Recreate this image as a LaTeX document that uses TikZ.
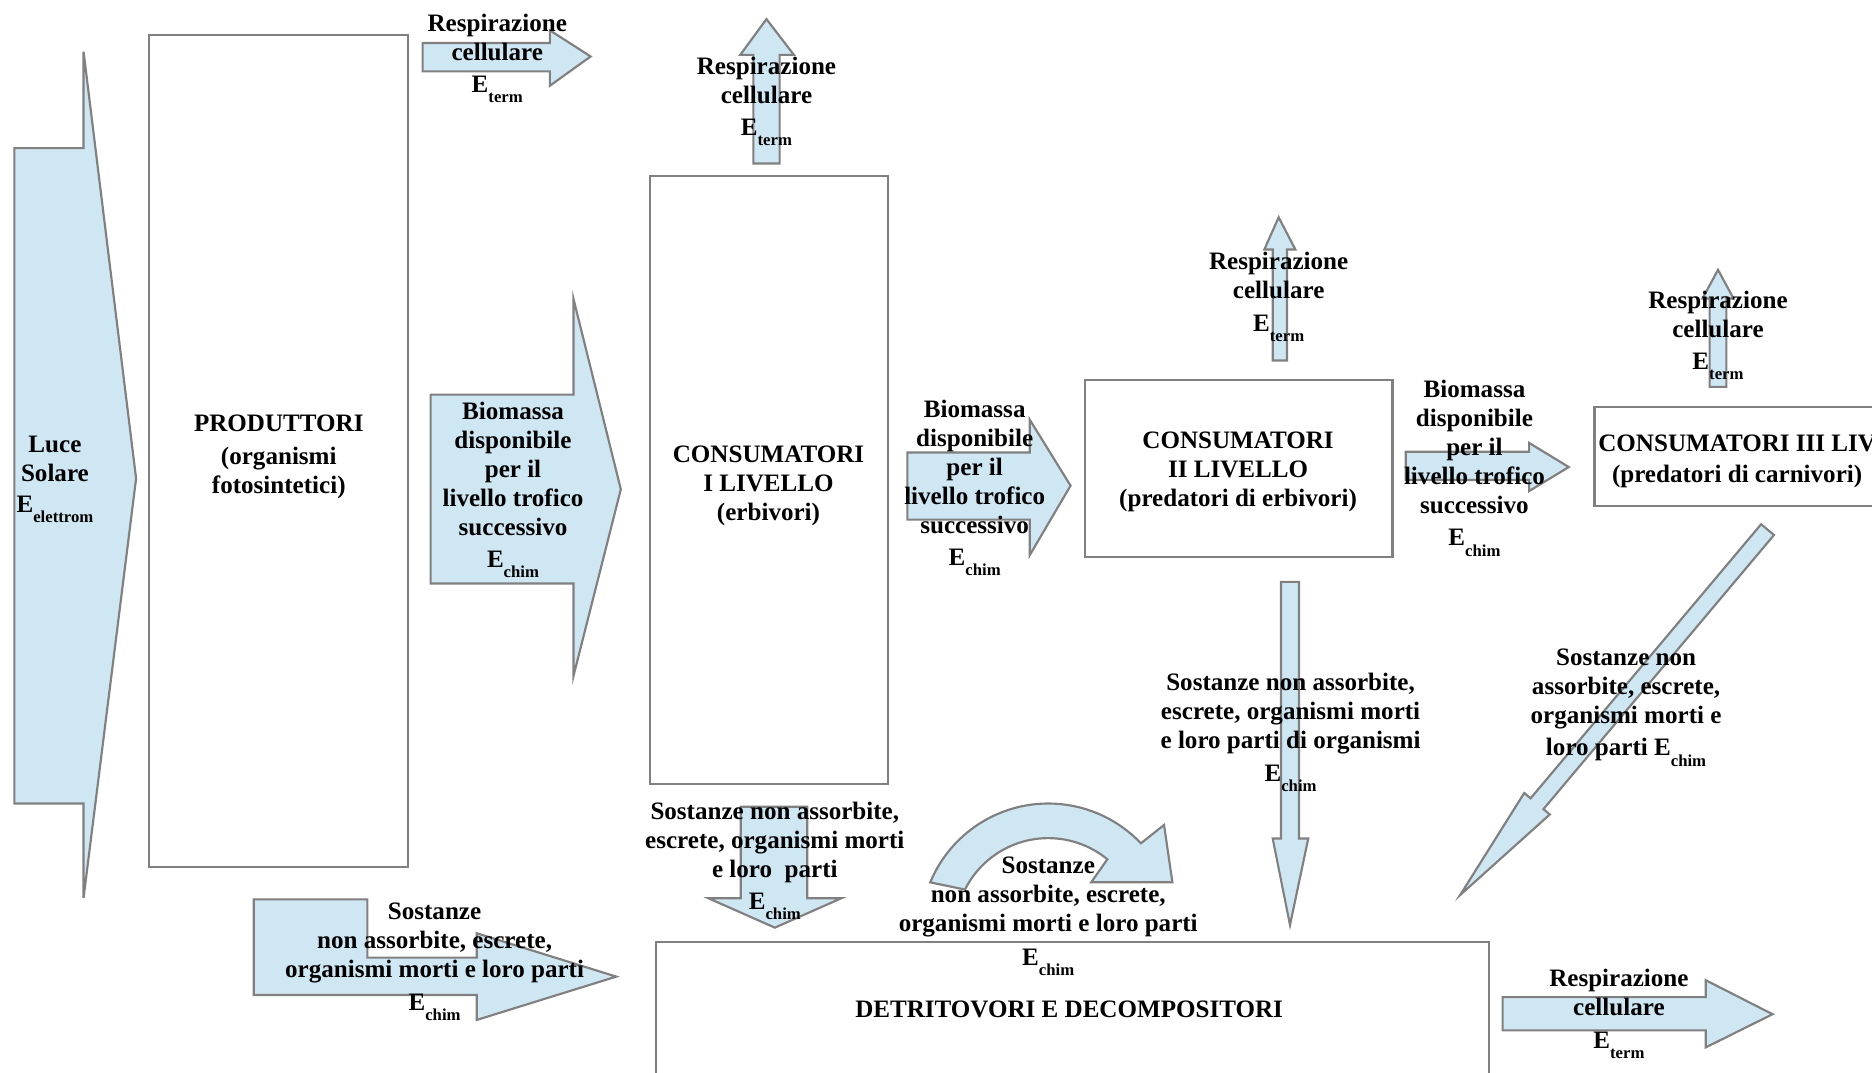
\documentclass[tikz,border=0pt]{standalone}
\usepackage{fontspec}
\setmainfont{Liberation Serif}
\definecolor{lineg}{RGB}{128,128,128}
\definecolor{afill}{RGB}{207,230,243}
\newcommand\Es[1]{E\raisebox{-8.5pt}{\fontsize{14}{16}\selectfont #1}}
\newcommand\lab[4]{\node[lbl] (#1) at (#2,#3+7) {\begin{tabular}[t]{@{}c@{}}#4\end{tabular}};}
\tikzset{
  box/.style={draw=lineg, line width=1.8pt, fill=white},
  arr/.style={draw=lineg, line width=1.8pt, fill=afill, line join=miter},
  lbl/.style={font=\fontsize{21}{24.3}\selectfont\bfseries, inner sep=0pt, anchor=base, text=black}
}
\begin{document}
\begin{tikzpicture}[x=1pt,y=-1pt]
\useasboundingbox (0,0) rectangle (1568,898);
\clip (0,0) rectangle (1568,898);
\fill[white] (0,0) rectangle (1568,898);
% boxes
\draw[box] (124.8,29.3) rectangle (341.8,726);
\draw[box] (544.6,147.4) rectangle (743.6,657);
\draw[box] (908.7,318) rectangle (1166.3,466.6);
\draw[box] (1335.5,341) rectangle (1590,424);
\draw[box] (549.7,788.7) rectangle (1247,920);
% block arrows
\draw[arr] (12,124.1) -- (70,124.1) -- (70,43.4) -- (114,400.8) -- (70,752) -- (70,673) -- (12,673) -- cycle;
\draw[arr] (354,36) -- (460.6,36) -- (460.6,25.4) -- (494.7,47.3) -- (460.6,71.8) -- (460.6,59.8) -- (354,59.8) -- cycle;
\draw[arr] (360.7,330.5) -- (480.4,330.5) -- (480.4,250.5) -- (520,409.8) -- (480.4,566) -- (480.4,488.7) -- (360.7,488.7) -- cycle;
\draw[arr] (631,137) -- (631,46) -- (620,46) -- (642,16) -- (665,46) -- (653,46) -- (653,137) -- cycle;
\draw[arr] (760,379) -- (862.5,379) -- (862.5,351.5) -- (896.7,406.8) -- (862.5,465) -- (862.5,435.2) -- (760,435.2) -- cycle;
\draw[arr] (1066,302) -- (1066,209) -- (1059,209) -- (1071,182) -- (1085,209) -- (1078,209) -- (1078,302) -- cycle;
\draw[arr] (1177.4,378.4) -- (1280.8,378.4) -- (1280.8,371) -- (1314,391.2) -- (1280.8,411.3) -- (1280.8,402) -- (1177.4,402) -- cycle;
\draw[arr] (1432,324) -- (1432,250) -- (1426,250) -- (1439,226) -- (1452,250) -- (1446,250) -- (1446,324) -- cycle;
\draw[arr] (620.5,675.7) -- (676.2,675.7) -- (676.2,752.4) -- (704.6,752.4) -- (649,777) -- (593.5,752.4) -- (620.5,752.4) -- cycle;
\draw[arr] (1073,487.4) -- (1088,487.4) -- (1088,702.3) -- (1095.8,702.3) -- (1080.5,774.8) -- (1066,702.3) -- (1073,702.3) -- cycle;
\draw[arr] (1475.1,439.1) -- (1485.9,448.1) -- (1292.8,677.7) -- (1298.1,682.2) -- (1223,749.7) -- (1276.7,664.2) -- (1282.0,668.7) -- cycle;
\draw[arr] (212.6,753.3) -- (307.7,753.3) -- (307.7,802.1) -- (399.3,802.1) -- (399.3,781.7) -- (516.2,818) -- (399.3,854.3) -- (399.3,833.4) -- (212.6,833.4) -- cycle;
\draw[arr] (1258.6,835.2) -- (1428.7,835.2) -- (1428.7,821) -- (1484.7,849.5) -- (1428.7,877.3) -- (1428.7,863) -- (1258.6,863) -- cycle;
\draw[arr] plot[domain=157.5:43.5, samples=40] ({878+107*cos(\x)},{780-107*sin(\x)}) -- (975,691) -- (982,739) -- (914,739) -- plot[domain=50.6:153.4, samples=40] ({878+78*cos(\x)},{780-78*sin(\x)}) -- cycle;
% labels
\lab{luce}{46}{371.8}{Luce\\Solare\\[2pt]\Es{elettrom}}
\lab{r1t}{416.5}{19.4}{Respirazione\\cellulare\\[2.7pt]\Es{term}}
\lab{prod}{233.5}{354}{PRODUTTORI\\[3.5pt](organismi\\fotosintetici)}
\lab{b1t}{429.7}{344}{Biomassa\\disponibile\\per il\\livello trofico\\successivo\\[2.7pt]\Es{chim}}
\lab{c1t}{643.7}{380}{CONSUMATORI\\I LIVELLO\\(erbivori)}
\lab{r2t}{642}{55.3}{Respirazione\\cellulare\\[2.7pt]\Es{term}}
\lab{b2t}{816.4}{342.5}{Biomassa\\disponibile\\per il\\livello trofico\\successivo\\[2.7pt]\Es{chim}}
\lab{c2t}{1037}{369}{CONSUMATORI\\II LIVELLO\\(predatori di erbivori)}
\lab{r3t}{1071}{219}{Respirazione\\cellulare\\[2.7pt]\Es{term}}
\lab{b3t}{1235}{326}{Biomassa\\disponibile\\per il\\livello trofico\\successivo\\[2.7pt]\Es{chim}}
\node[lbl, anchor=base west] (c3a) at (1338.6,378) {CONSUMATORI III LIVELLO};
\node[lbl] (c3b) at (1455,404) {(predatori di carnivori)};
\lab{r4t}{1439}{251}{Respirazione\\cellulare\\[2.7pt]\Es{term}}
\lab{dc1t}{649}{679}{Sostanze non assorbite,\\escrete, organismi morti\\e loro\ \ parti\\[2.7pt]\Es{chim}}
\lab{curvt}{878}{725}{Sostanze\\non assorbite, escrete,\\organismi morti e loro parti\\[3.5pt]\Es{chim}}
\lab{dett}{895.5}{845}{DETRITOVORI E DECOMPOSITORI}
\lab{ldt}{1081}{571}{Sostanze non assorbite,\\escrete, organismi morti\\e loro parti di organismi\\[3.5pt]\Es{chim}}
\lab{diagt}{1362}{550.6}{Sostanze non\\assorbite, escrete,\\organismi morti e\\[2.7pt]loro parti \Es{chim}}
\lab{blt}{364}{763}{Sostanze\\non assorbite, escrete,\\organismi morti e loro parti\\[3.5pt]\Es{chim}}
\lab{r5t}{1356}{819.4}{Respirazione\\cellulare\\[3.5pt]\Es{term}}
\end{tikzpicture}
\end{document}
